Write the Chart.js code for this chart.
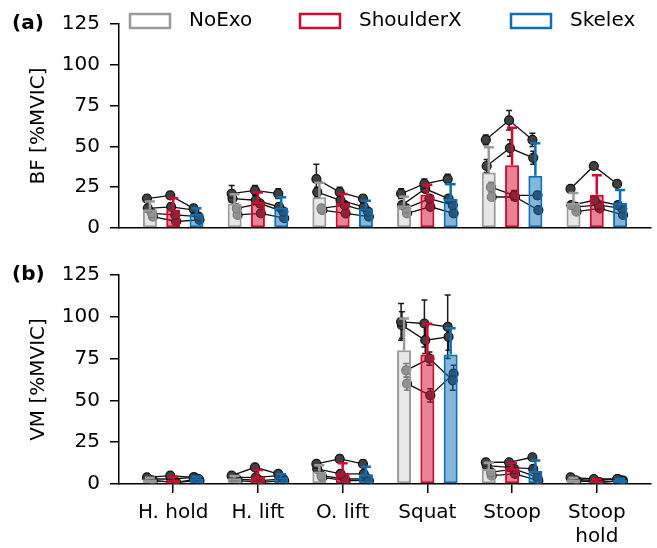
<!DOCTYPE html>
<html>
<head>
<meta charset="utf-8">
<script src="https://cdn.jsdelivr.net/npm/chart.js@4.4.1/dist/chart.umd.min.js"></script>
<style>
  html, body { margin: 0; padding: 0; background: #fff; }
  #wrap { position: relative; width: 657px; height: 548px; }
  #wrap canvas { position: absolute; left: 0; }
</style>
</head>
<body>
<div id="wrap">
  <canvas id="bf" width="657" height="250" style="top:0"></canvas>
  <canvas id="vm" width="657" height="298" style="top:250px"></canvas>
</div>
<script>
const tasks = [['H. hold'], ['H. lift'], ['O. lift'], ['Squat'], ['Stoop'], ['Stoop', 'hold']];
const conditions = ['NoExo', 'ShoulderX', 'Skelex'];
const yTicks = [0, 25, 50, 75, 100, 125];

// (a) BF: group mean and SD per task
const bfMeanNoExo = [11.5, 14.8, 18.8, 14.0, 34.0, 15.3];
const bfMeanShoulderX = [11.3, 16.0, 15.5, 20.5, 38.5, 20.3];
const bfMeanSkelex = [8.8, 12.5, 12.0, 17.8, 32.0, 15.3];
const bfSdNoExo = [4.8, 5.9, 9.0, 5.2, 15.5, 6.1];
const bfSdShoulderX = [7.0, 5.8, 5.4, 6.0, 23.0, 12.0];
const bfSdSkelex = [3.3, 6.4, 4.7, 9.0, 20.0, 8.0];

// (a) BF single subjects, per task: [NoExo, ShoulderX, Skelex]
const bfSubject1 = [[18, 20, 12], [21, 23, 21], [30, 22, 18], [21, 27, 30], [54, 66, 54], [24, 38, 27]];
const bfSubject2 = [[12, 13, 11], [18, 17, 13], [22, 17, 13], [14, 24, 18], [38, 49, 43], [14, 17, 14]];
const bfSubject3 = [[9, 8, 7], [12, 15, 10], [12, 14, 10], [12, 18, 14], [25, 20, 20], [13, 14, 12]];
const bfSubject4 = [[7, 4, 5], [8, 9, 6], [11, 9, 7], [9, 13, 9], [19, 19, 11], [10, 12, 8]];
const bfSubjectSd1 = [[2, 2, 2], [5, 3, 3], [9, 3, 2], [3, 3, 3], [3, 6, 4], [2, 2, 2]];
const bfSubjectSd2 = [[2, 2, 2], [2, 2, 2], [3, 2, 2], [2, 2, 2], [4, 5, 4], [2, 2, 2]];
const bfSubjectSd3 = [[1, 1, 1], [2, 1, 1], [2, 2, 1], [2, 2, 2], [3, 3, 2], [1, 1, 1]];
const bfSubjectSd4 = [[1, 1, 1], [1, 1, 1], [1, 1, 1], [1, 2, 1], [2, 2, 2], [1, 1, 1]];

// (b) VM: group mean and SD per task
const vmMeanNoExo = [2.8, 3.5, 7.5, 80.0, 9.0, 2.8];
const vmMeanShoulderX = [2.5, 4.3, 6.5, 77.5, 9.5, 1.8];
const vmMeanSkelex = [3.3, 4.0, 5.8, 77.5, 7.8, 2.5];
const vmSdNoExo = [1.0, 1.3, 3.7, 19.0, 3.7, 1.0];
const vmSdShoulderX = [1.9, 4.0, 5.9, 18.4, 2.9, 1.0];
const vmSdSkelex = [1.0, 1.8, 4.5, 15.7, 6.2, 0.6];

// (b) VM single subjects
const vmSubject1 = [[4, 5, 4], [5, 10, 6], [12, 15, 12], [97, 96, 94], [13, 13, 16], [4, 3, 3]];
const vmSubject2 = [[3, 3, 4], [4, 4, 5], [9, 6, 6], [95, 86, 88], [11, 10, 9], [3, 2, 3]];
const vmSubject3 = [[2, 1, 3], [3, 2, 3], [5, 3, 3], [68, 75, 62], [7, 9, 4], [2, 1, 2]];
const vmSubject4 = [[2, 1, 2], [2, 1, 2], [4, 2, 2], [60, 53, 66], [5, 6, 2], [2, 1, 2]];
const vmSubjectSd1 = [[1, 1, 1], [1, 1, 1], [2, 2, 2], [11, 14, 19], [2, 2, 2], [1, 1, 1]];
const vmSubjectSd2 = [[1, 1, 1], [1, 1, 1], [2, 2, 2], [8, 8, 8], [2, 2, 2], [1, 1, 1]];
const vmSubjectSd3 = [[1, 1, 1], [1, 1, 1], [1, 1, 1], [4, 4, 6], [1, 1, 1], [1, 1, 1]];
const vmSubjectSd4 = [[1, 1, 1], [1, 1, 1], [1, 1, 1], [4, 4, 5], [1, 1, 1], [1, 1, 1]];

const borderColors = ['#9a9a9a', '#d10a2f', '#0d6fb8'];
const fillColors = ['rgba(211,211,211,0.55)', 'rgba(210,10,46,0.5)', 'rgba(13,111,184,0.5)'];
const catPct = 0.825;
const slot = catPct / 3;
const jitter = [-0.035, -0.025, 0.025, 0.035];

Chart.defaults.font.family = '"DejaVu Sans", sans-serif';
Chart.defaults.font.size = 20;
Chart.defaults.color = '#000';

function barSet(k, means, sds) {
    return {
        type: 'bar',
        label: conditions[k],
        data: means.map((v, i) => ({ x: i, y: v })),
        err: sds,
        backgroundColor: fillColors[k],
        borderColor: borderColors[k],
        borderWidth: 2,
        borderSkipped: false,
        barPercentage: 0.6,
        categoryPercentage: catPct,
        order: 1
    };
}

function subjectSet(s, values, sds) {
    const pts = [], sd = [];
    values.forEach((vals, i) => {
        vals.forEach((v, k) => {
            pts.push({ x: i + (k - 1) * slot + jitter[s], y: v });
            sd.push(sds[i][k]);
        });
        pts.push({ x: i + 0.5, y: null });  // break the line between tasks
        sd.push(0);
    });
    return {
        type: 'line',
        label: 'S' + (s + 1),
        data: pts,
        sd: sd,
        borderColor: '#111',
        borderWidth: 1.3,
        pointRadius: 4.5,
        pointBackgroundColor: '#404040',
        pointBorderColor: '#111',
        pointBorderWidth: 1.2,
        order: 2
    };
}

function vline(ctx, x, y1, y2, cap) {
    ctx.beginPath();
    ctx.moveTo(x, y1); ctx.lineTo(x, y2);
    ctx.moveTo(x - cap, y2); ctx.lineTo(x + cap, y2);
    ctx.moveTo(x - cap, y1); ctx.lineTo(x + cap, y1);
    ctx.stroke();
}

const errorBars = {
    id: 'errorBars',
    beforeDatasetsDraw(chart) {
        // single-subject SDs, drawn under the bars
        const { ctx, chartArea: a, scales: { x, y } } = chart;
        ctx.save();
        ctx.beginPath(); ctx.rect(a.left, a.top - 10, a.width, a.height + 10); ctx.clip();
        ctx.strokeStyle = '#1a1a1a';
        ctx.lineWidth = 1.5;
        chart.data.datasets.forEach(ds => {
            if (!ds.sd) return;
            ds.data.forEach((p, j) => {
                if (p.y === null) return;
                const px = x.getPixelForValue(p.x);
                vline(ctx, px, y.getPixelForValue(p.y - ds.sd[j]), y.getPixelForValue(p.y + ds.sd[j]), 3);
            });
        });
        ctx.restore();
    },
    afterDatasetsDraw(chart) {
        // group SD, only the upper half is visible
        const { ctx, scales: { y } } = chart;
        ctx.save();
        ctx.lineWidth = 2.5;
        chart.data.datasets.forEach((ds, d) => {
            if (!ds.err) return;
            ctx.strokeStyle = ds.borderColor;
            chart.getDatasetMeta(d).data.forEach((bar, i) => {
                const top = y.getPixelForValue(ds.data[i].y + ds.err[i]);
                ctx.beginPath();
                ctx.moveTo(bar.x, bar.y); ctx.lineTo(bar.x, top);
                ctx.moveTo(bar.x - 5, top); ctx.lineTo(bar.x + 5, top);
                ctx.stroke();
            });
        });
        ctx.restore();
    }
};

const panelText = {
    id: 'panelText',
    afterDraw(chart, args, opts) {
        const ctx = chart.ctx;
        ctx.save();
        ctx.textBaseline = 'middle';
        ctx.textAlign = 'left';
        ctx.fillStyle = '#000';
        ctx.font = 'bold 20px "DejaVu Sans"';
        ctx.fillText(opts.tag, 12, chart.chartArea.top);
        if (opts.legend) {
            ctx.font = '20px "DejaVu Sans"';
            ctx.lineWidth = 2.5;
            const boxX = [129, 299, 510];
            conditions.forEach((c, k) => {
                ctx.strokeStyle = borderColors[k];
                ctx.strokeRect(boxX[k] + 1, 14, 40, 14);
                ctx.fillText(c, boxX[k] + 60, 21);
            });
        }
        ctx.restore();
    }
};

function makePanel(canvasId, yTitle, tag, bars, subjects, withLabels) {
    const ctx = document.getElementById(canvasId).getContext('2d');
    return new Chart(ctx, {
        type: 'bar',
        data: {
            datasets: bars.concat(subjects)
        },
        plugins: [errorBars, panelText],
        options: {
            responsive: false,
            animation: false,
            events: [],
            layout: { padding: { left: 26.5, right: 6, top: withLabels ? 25 : 24, bottom: 0 } },
            scales: {
                x: {
                    type: 'linear',
                    offset: false,
                    min: -0.64,
                    max: 5.64,
                    afterBuildTicks: s => { s.ticks = tasks.map((t, i) => ({ value: i })); },
                    afterFit: s => { s.height = withLabels ? 64 : 17; },
                    ticks: {
                        display: withLabels,
                        autoSkip: false,
                        maxRotation: 0,
                        padding: 8,
                        font: { size: 20, lineHeight: 1.2 },
                        callback: v => tasks[v]
                    },
                    grid: { offset: false, drawOnChartArea: false, drawTicks: withLabels, tickLength: 9, tickColor: '#000', lineWidth: 1.5 },
                    border: { color: '#000', width: 1.5 }
                },
                y: {
                    min: 0,
                    max: 125,
                    afterBuildTicks: s => { s.ticks = yTicks.map(v => ({ value: v })); },
                    afterFit: s => { s.width = 92.5; },
                    ticks: { padding: 10 },
                    title: { display: true, text: yTitle, padding: 0, font: { size: 20, lineHeight: 1.2 } },
                    grid: { drawOnChartArea: false, tickLength: 9, tickColor: '#000', lineWidth: 1.5 },
                    border: { color: '#000', width: 1.5 }
                }
            },
            plugins: {
                legend: { display: false },
                tooltip: { enabled: false },
                panelText: { tag: tag, legend: !withLabels }
            }
        }
    });
}

makePanel('bf', 'BF [%MVIC]', '(a)',
    [barSet(0, bfMeanNoExo, bfSdNoExo), barSet(1, bfMeanShoulderX, bfSdShoulderX), barSet(2, bfMeanSkelex, bfSdSkelex)],
    [subjectSet(0, bfSubject1, bfSubjectSd1), subjectSet(1, bfSubject2, bfSubjectSd2),
     subjectSet(2, bfSubject3, bfSubjectSd3), subjectSet(3, bfSubject4, bfSubjectSd4)],
    false);

makePanel('vm', 'VM [%MVIC]', '(b)',
    [barSet(0, vmMeanNoExo, vmSdNoExo), barSet(1, vmMeanShoulderX, vmSdShoulderX), barSet(2, vmMeanSkelex, vmSdSkelex)],
    [subjectSet(0, vmSubject1, vmSubjectSd1), subjectSet(1, vmSubject2, vmSubjectSd2),
     subjectSet(2, vmSubject3, vmSubjectSd3), subjectSet(3, vmSubject4, vmSubjectSd4)],
    true);
</script>
</body>
</html>
